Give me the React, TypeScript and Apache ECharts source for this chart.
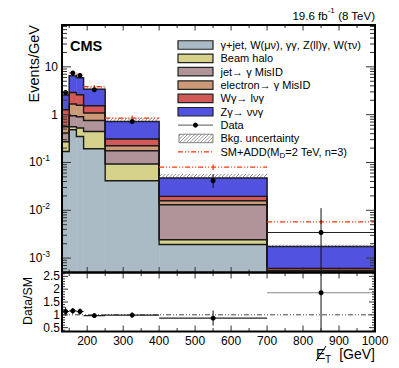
import React, { useEffect, useRef } from "react";
import * as echarts from "echarts";

const FONT = '"Liberation Sans", Arial, Helvetica, sans-serif';

// MET bins (GeV)
const binEdges = [130, 150, 170, 190, 250, 400, 700, 1000];

// Stacked backgrounds in events/GeV (bottom to top)
const gammaJetOther = [0.17, 0.483, 0.35, 0.194, 0.0414, 0.00193, 0.0002];
const beamHalo = [0.101, 0.075, 0.175, 0.251, 0.0512, 0.00049, 0.00001];
const jetMisID = [0.141, 0.39, 0.379, 0.311, 0.0834, 0.0106, 0.0003];
const electronMisID = [0.146, 0.72, 0.669, 0.324, 0.048, 0.0028, 0.00004];
const wGamma = [0.712, 1.24, 1.037, 0.455, 0.085, 0.0037, 0.00006];
const zGamma = [1.31, 3.59, 3.29, 1.865, 0.411, 0.0277, 0.00114];

const processLabels = [
  "γ+jet, W(μν), γγ, Z(ll)γ, W(τν)",
  "Beam halo",
  "jet→ γ MisID",
  "electron→ γ MisID",
  "Wγ→ lνγ",
  "Zγ→ ννγ",
];
const processColors = ["#aabbc6", "#d6d28c", "#b09499", "#cd9a78", "#d25858", "#5252e0"];

// relative background uncertainty (upper band)
const bkgRelUncertainty = [0.1, 0.08, 0.08, 0.1, 0.2, 0.22, 0.09];

// observed data (events/GeV) with error band
const dataValues = [2.91, 7.42, 6.61, 3.32, 0.72, 0.0414, 0.00343];
const dataLow = [2.53, 6.81, 6.04, 3.08, 0.65, 0.0291, 0.000001];
const dataHigh = [3.29, 8.03, 7.18, 3.56, 0.79, 0.0572, 0.0111];
const dataShowXErrMain = [0, 0, 0, 0, 0, 0, 1];

// SM + ADD signal (M_D = 2 TeV, n = 3)
const smAddValues = [2.95, 7.5, 7.0, 3.85, 0.85, 0.08, 0.00574];
const smAddRelErr = [0.06, 0.06, 0.06, 0.08, 0.13, 0.13, 0.1];

// Data / SM ratio
const ratioValues = [1.13, 1.155, 1.13, 0.97, 0.99, 0.87, 1.86];
const ratioLow = [0.96, 1.04, 1.01, 0.89, 0.89, 0.58, 0.0];
const ratioHigh = [1.3, 1.27, 1.25, 1.05, 1.09, 1.17, 6.0];

// tick labels
const xTickLabels = [200, 300, 400, 500, 600, 700, 800, 900, 1000];
const xMinorTicks = [150, 250, 350, 450, 550, 650, 750, 850, 950];
const yMainMajorTicks = [0.001, 0.01, 0.1, 1, 10];
const ratioTickLabels = [0.5, 1, 1.5, 2, 2.5];

const X_MIN = 130;
const X_MAX = 1000;
const Y_MIN = 0.0005;
const Y_MAX = 75;
const R_MIN = 0.35;
const R_MAX = 2.65;
const Y_FLOOR = 1e-7;

function hatchSegments(L: number, T: number, W: number, H: number, step: number) {
  const segs: number[][] = [];
  const c0 = Math.ceil((L + T) / step) * step;
  for (let c = c0; c < L + W + T + H; c += step) {
    const xa = Math.max(L, c - T - H);
    const xb = Math.min(L + W, c - T);
    if (xb > xa) segs.push([xa, c - xa, xb, c - xb]);
  }
  return segs;
}

function logMinors(lo: number, hi: number) {
  const out: number[] = [];
  for (let e = -5; e <= 3; e++) {
    for (let k = 2; k <= 9; k++) {
      const v = k * Math.pow(10, e);
      if (v > lo && v < hi) out.push(v);
    }
  }
  return out;
}

function linMinors(lo: number, hi: number, step: number, majors: number[]) {
  const out: number[] = [];
  const start = Math.ceil(lo / step);
  for (let i = start; i * step < hi; i++) {
    const v = Math.round(i * step * 1000) / 1000;
    if (!majors.some((m) => Math.abs(m - v) < 1e-6)) out.push(v);
  }
  return out;
}

function makeFrame(cfg: any) {
  return (params: any, api: any) => {
    const cs = params.coordSys;
    const L = cs.x, T = cs.y, W = cs.width, H = cs.height;
    const R = L + W, B = T + H;
    const ch: any[] = [];
    const ln = (x1: number, y1: number, x2: number, y2: number) =>
      ch.push({ type: "line", shape: { x1, y1, x2, y2 }, style: { stroke: "#333", lineWidth: 1 } });
    cfg.yMajors.forEach((v: number) => {
      const y = api.coord([cfg.xRef, v])[1];
      ln(L, y, L + cfg.yMajLen, y);
      ln(R, y, R - cfg.yMajLen, y);
    });
    cfg.yMinors.forEach((v: number) => {
      const y = api.coord([cfg.xRef, v])[1];
      ln(L, y, L + cfg.yMinLen, y);
      ln(R, y, R - cfg.yMinLen, y);
    });
    cfg.xMajors.forEach((v: number) => {
      const x = api.coord([v, cfg.yRef])[0];
      ln(x, B, x, B - cfg.xMajLen);
      ln(x, T, x, T + cfg.xMajLen);
    });
    cfg.xMinors.forEach((v: number) => {
      const x = api.coord([v, cfg.yRef])[0];
      ln(x, B, x, B - cfg.xMinLen);
      ln(x, T, x, T + cfg.xMinLen);
    });
    ch.push({
      type: "rect",
      shape: { x: L, y: T, width: W, height: H },
      style: { fill: "none", stroke: "#000", lineWidth: 2 },
    });
    return { type: "group", children: ch };
  };
}

function buildOption() {
  const nBins = binEdges.length - 1;
  const layers = [gammaJetOther, beamHalo, jetMisID, electronMisID, wGamma, zGamma];
  const cum = new Array(nBins).fill(0);
  const stackData: number[][] = [];
  const cumTops: number[][] = [];
  layers.forEach((layer, j) => {
    const tops: number[] = [];
    for (let i = 0; i < nBins; i++) {
      const lo = cum[i];
      const hi = lo + layer[i];
      stackData.push([binEdges[i], binEdges[i + 1], j === 0 ? Y_FLOOR : lo, hi, j]);
      cum[i] = hi;
      tops.push(hi);
    }
    cumTops.push(tops);
  });
  const totals = cum.slice();
  const outlineData = cumTops.map((t, j) => [X_MIN, t[0], j]);

  const hatchData = totals.map((t, i) => [binEdges[i], binEdges[i + 1], t, t * (1 + bkgRelUncertainty[i])]);
  const addData = smAddValues.map((v, i) => [
    binEdges[i],
    binEdges[i + 1],
    v,
    v * (1 - smAddRelErr[i]),
    v * (1 + smAddRelErr[i]),
  ]);
  const mainPoints = dataValues.map((v, i) => [
    (binEdges[i] + binEdges[i + 1]) / 2,
    v,
    dataLow[i],
    dataHigh[i],
    binEdges[i],
    binEdges[i + 1],
    dataShowXErrMain[i],
  ]);
  const ratioPoints = ratioValues.map((v, i) => [
    (binEdges[i] + binEdges[i + 1]) / 2,
    v,
    ratioLow[i],
    ratioHigh[i],
    binEdges[i],
    binEdges[i + 1],
    i === nBins - 1 ? 2 : 1,
  ]);

  const pointRenderer = (params: any, api: any) => {
    const xc = api.value(0), v = api.value(1), lo = api.value(2), hi = api.value(3);
    const x0 = api.value(4), x1 = api.value(5), sx = api.value(6);
    const p = api.coord([xc, v]);
    const pl = api.coord([xc, lo]);
    const ph = api.coord([xc, hi]);
    const ch: any[] = [];
    if (sx > 0) {
      const xl = api.coord([x0, v])[0];
      const xr = api.coord([x1, v])[0];
      ch.push({
        type: "line",
        shape: { x1: xl, y1: p[1], x2: xr, y2: p[1] },
        style: { stroke: sx === 2 ? "#888" : "#222", lineWidth: 1.2 },
      });
    }
    ch.push({
      type: "line",
      shape: { x1: p[0], y1: pl[1], x2: p[0], y2: ph[1] },
      style: { stroke: "#111", lineWidth: 1 },
    });
    ch.push({ type: "circle", shape: { cx: p[0], cy: p[1], r: 2.5 }, style: { fill: "#000" } });
    return { type: "group", children: ch };
  };

  const legendY0 = 45;
  const legendDy = 13.35;
  const legendGraphics: any[] = [];
  processLabels.forEach((lab, i) => {
    const y = legendY0 + i * legendDy;
    legendGraphics.push({
      type: "rect",
      shape: { x: 178, y: y - 4.25, width: 35, height: 8.5 },
      style: { fill: processColors[i], stroke: "#222", lineWidth: 1.2 },
    });
    legendGraphics.push({
      type: "text",
      x: 220.5,
      y,
      style: { text: lab, fontSize: 11, fontFamily: FONT, fill: "#000", verticalAlign: "middle", align: "left" },
    });
  });
  {
    const y = legendY0 + 6 * legendDy;
    legendGraphics.push({ type: "line", shape: { x1: 178, y1: y, x2: 213, y2: y }, style: { stroke: "#555", lineWidth: 1 } });
    legendGraphics.push({ type: "circle", shape: { cx: 195.5, cy: y, r: 2.5 }, style: { fill: "#000" } });
    legendGraphics.push({
      type: "text", x: 220.5, y,
      style: { text: "Data", fontSize: 11, fontFamily: FONT, fill: "#000", verticalAlign: "middle", align: "left" },
    });
  }
  {
    const y = legendY0 + 7 * legendDy;
    const L = 179, T = y - 4.25, W = 34, H = 8.5;
    legendGraphics.push({ type: "rect", shape: { x: L, y: T, width: W, height: H }, style: { fill: "none", stroke: "#666", lineWidth: 0.8 } });
    hatchSegments(L, T, W, H, 3.5).forEach((s) =>
      legendGraphics.push({ type: "line", shape: { x1: s[0], y1: s[1], x2: s[2], y2: s[3] }, style: { stroke: "#666", lineWidth: 0.7 } })
    );
    legendGraphics.push({
      type: "text", x: 220.5, y,
      style: { text: "Bkg. uncertainty", fontSize: 11, fontFamily: FONT, fill: "#000", verticalAlign: "middle", align: "left" },
    });
  }
  {
    const y = legendY0 + 8 * legendDy;
    legendGraphics.push({
      type: "line", shape: { x1: 178, y1: y, x2: 213, y2: y },
      style: { stroke: "#ff3300", lineWidth: 1.2, lineDash: [5, 2, 1, 2, 1, 2] },
    });
    legendGraphics.push({
      type: "text", x: 220.5, y,
      style: {
        text: "{n|SM+ADD(M}{d|D}{n|=2 TeV, n=3)}",
        fontFamily: FONT, fill: "#000", verticalAlign: "middle", align: "left",
        rich: {
          n: { fontSize: 11, fontFamily: FONT, lineHeight: 16, verticalAlign: "middle" },
          d: { fontSize: 8, fontFamily: FONT, verticalAlign: "bottom" },
        },
      },
    });
  }

  const textGraphics: any[] = [
    {
      type: "text", x: 70, y: 46,
      style: { text: "CMS", fontSize: 14.5, fontWeight: "bold", fontFamily: FONT, fill: "#000", verticalAlign: "middle", align: "left" },
    },
    {
      type: "text", x: 375, y: 15.5,
      style: {
        text: "{n|19.6 fb}{s|-1}{n| (8 TeV)}",
        align: "right", verticalAlign: "middle", fontFamily: FONT,
        rich: {
          n: { fontSize: 11.5, fontFamily: FONT, lineHeight: 18, verticalAlign: "middle" },
          s: { fontSize: 8, fontFamily: FONT, verticalAlign: "top" },
        },
      },
    },
    {
      type: "text", x: 34, y: 25, rotation: Math.PI / 2,
      style: { text: "Events/GeV", fontSize: 14.5, fontFamily: FONT, fill: "#000", align: "right", verticalAlign: "middle" },
    },
    {
      type: "text", x: 27.5, y: 301, rotation: Math.PI / 2,
      style: { text: "Data/SM", fontSize: 12.3, fontFamily: FONT, fill: "#000", align: "center", verticalAlign: "middle" },
    },
    {
      type: "text", x: 316, y: 354,
      style: { text: "E", fontSize: 14, fontFamily: FONT, fill: "#000", align: "left", verticalAlign: "middle" },
    },
    { type: "line", shape: { x1: 316, y1: 361, x2: 326, y2: 346 }, style: { stroke: "#000", lineWidth: 1 } },
    {
      type: "text", x: 325, y: 359,
      style: { text: "T", fontSize: 10, fontFamily: FONT, fill: "#000", align: "left", verticalAlign: "middle" },
    },
    {
      type: "text", x: 375, y: 354,
      style: { text: "[GeV]", fontSize: 14, fontFamily: FONT, fill: "#000", align: "right", verticalAlign: "middle" },
    },
  ];

  return {
    animation: false,
    backgroundColor: "#fff",
    grid: [
      { left: 62, top: 25, width: 313, height: 247.5, containLabel: false, outerBoundsMode: "none" },
      { left: 62, top: 272.5, width: 313, height: 59, containLabel: false, outerBoundsMode: "none" },
    ],
    xAxis: [
      {
        gridIndex: 0, type: "value", min: X_MIN, max: X_MAX,
        axisLine: { show: false }, axisTick: { show: false }, axisLabel: { show: false }, splitLine: { show: false },
      },
      {
        gridIndex: 1, type: "value", min: X_MIN, max: X_MAX,
        axisLine: { show: false }, axisTick: { show: false }, splitLine: { show: false },
        axisLabel: {
          show: true, customValues: xTickLabels, margin: 3, fontSize: 12, fontFamily: FONT, color: "#000",
          showMinLabel: true, showMaxLabel: true,
          formatter: (v: number) => String(v),
        },
      },
    ],
    yAxis: [
      {
        gridIndex: 0, type: "log", logBase: 10, min: Y_MIN, max: Y_MAX,
        axisLine: { show: false }, axisTick: { show: false }, splitLine: { show: false },
        axisLabel: {
          show: true, margin: 4, color: "#000", fontFamily: FONT,
          showMinLabel: false, showMaxLabel: false,
          formatter: (v: number) => {
            const lg = Math.log10(v);
            const e = Math.round(lg);
            if (Math.abs(lg - e) > 1e-6) return "";
            if (e === 0) return "{n|1}";
            if (e === 1) return "{n|10}";
            return "{n|10}{s|" + e + "}{p|}";
          },
          rich: {
            n: { fontSize: 12, fontFamily: FONT, color: "#000", lineHeight: 18, verticalAlign: "middle" },
            s: { fontSize: 8.5, fontFamily: FONT, color: "#000", verticalAlign: "top" },
            p: { width: 8 },
          },
        },
      },
      {
        gridIndex: 1, type: "value", min: R_MIN, max: R_MAX,
        axisLine: { show: false }, axisTick: { show: false }, splitLine: { show: false },
        axisLabel: {
          show: true, customValues: ratioTickLabels, margin: 2, fontSize: 12, fontFamily: FONT, color: "#000",
          formatter: (v: number) => String(v),
        },
      },
    ],
    graphic: { elements: [...legendGraphics, ...textGraphics] },
    series: [
      {
        type: "custom", name: "stack", xAxisIndex: 0, yAxisIndex: 0, z: 2, clip: true,
        data: stackData,
        encode: { x: [0, 1], y: [2, 3] },
        renderItem: (params: any, api: any) => {
          const a = api.coord([api.value(0), api.value(3)]);
          const b = api.coord([api.value(1), api.value(2)]);
          return {
            type: "rect",
            shape: { x: a[0], y: a[1], width: b[0] - a[0], height: b[1] - a[1] },
            style: { fill: processColors[api.value(4)], stroke: processColors[api.value(4)], lineWidth: 0.5 },
          };
        },
      },
      {
        type: "custom", name: "outline", xAxisIndex: 0, yAxisIndex: 0, z: 2.5, clip: true,
        data: outlineData,
        encode: { x: 0, y: 1 },
        renderItem: (params: any, api: any) => {
          const j = api.value(2);
          const tops = cumTops[j];
          const pts: number[][] = [];
          pts.push(api.coord([binEdges[0], Y_FLOOR]));
          for (let i = 0; i < tops.length; i++) {
            pts.push(api.coord([binEdges[i], tops[i]]));
            pts.push(api.coord([binEdges[i + 1], tops[i]]));
          }
          pts.push(api.coord([binEdges[binEdges.length - 1], Y_FLOOR]));
          return {
            type: "polyline",
            shape: { points: pts },
            style: { fill: "none", stroke: "#1a1a1a", lineWidth: 1.4 },
          };
        },
      },
      {
        type: "custom", name: "bkgunc", xAxisIndex: 0, yAxisIndex: 0, z: 3, clip: true,
        data: hatchData,
        encode: { x: [0, 1], y: [2, 3] },
        renderItem: (params: any, api: any) => {
          const a = api.coord([api.value(0), api.value(3)]);
          const b = api.coord([api.value(1), api.value(2)]);
          const L = a[0], T = a[1], W = b[0] - a[0], H = b[1] - a[1];
          const ch = hatchSegments(L, T, W, H, 3.5).map((s) => ({
            type: "line", shape: { x1: s[0], y1: s[1], x2: s[2], y2: s[3] }, style: { stroke: "#666", lineWidth: 0.7 },
          }));
          return { type: "group", children: ch };
        },
      },
      {
        type: "custom", name: "smadd", xAxisIndex: 0, yAxisIndex: 0, z: 4, clip: true,
        data: addData,
        encode: { x: [0, 1], y: [2, 3, 4] },
        renderItem: (params: any, api: any) => {
          const x0 = api.value(0), x1 = api.value(1), v = api.value(2);
          const a = api.coord([x0, v]);
          const b = api.coord([x1, v]);
          const xc = (a[0] + b[0]) / 2;
          const lo = api.coord([x0, api.value(3)])[1];
          const hi = api.coord([x0, api.value(4)])[1];
          return {
            type: "group",
            children: [
              { type: "line", shape: { x1: a[0], y1: a[1], x2: b[0], y2: b[1] }, style: { stroke: "#ff3300", lineWidth: 1.2, lineDash: [5, 2, 1, 2, 1, 2] } },
              { type: "line", shape: { x1: xc, y1: lo, x2: xc, y2: hi }, style: { stroke: "#ff3300", lineWidth: 1.2 } },
            ],
          };
        },
      },
      {
        type: "custom", name: "data", xAxisIndex: 0, yAxisIndex: 0, z: 5, clip: true,
        data: mainPoints,
        encode: { x: 0, y: [1, 2, 3] },
        renderItem: pointRenderer,
      },
      {
        type: "custom", name: "frameMain", xAxisIndex: 0, yAxisIndex: 0, z: 8, clip: false,
        data: [[500, 1]],
        encode: { x: 0, y: 1 },
        renderItem: makeFrame({
          xRef: X_MIN, yRef: 1,
          yMajors: yMainMajorTicks, yMinors: logMinors(Y_MIN, Y_MAX), yMajLen: 9, yMinLen: 5,
          xMajors: xTickLabels.filter((v) => v < X_MAX), xMinors: xMinorTicks, xMajLen: 5.5, xMinLen: 3,
        }),
      },
      {
        type: "custom", name: "refline", xAxisIndex: 1, yAxisIndex: 1, z: 3, clip: true,
        data: [[X_MIN, X_MAX, 1]],
        encode: { x: [0, 1], y: 2 },
        renderItem: (params: any, api: any) => {
          const a = api.coord([api.value(0), api.value(2)]);
          const b = api.coord([api.value(1), api.value(2)]);
          return {
            type: "line", shape: { x1: a[0], y1: a[1], x2: b[0], y2: b[1] },
            style: { stroke: "#444", lineWidth: 1, lineDash: [5, 2, 1, 2, 1, 2] },
          };
        },
      },
      {
        type: "custom", name: "ratio", xAxisIndex: 1, yAxisIndex: 1, z: 5, clip: true,
        data: ratioPoints,
        encode: { x: 0, y: [1, 2, 3] },
        renderItem: pointRenderer,
      },
      {
        type: "custom", name: "frameRatio", xAxisIndex: 1, yAxisIndex: 1, z: 8, clip: false,
        data: [[500, 1]],
        encode: { x: 0, y: 1 },
        renderItem: makeFrame({
          xRef: X_MIN, yRef: 1,
          yMajors: ratioTickLabels, yMinors: linMinors(R_MIN, R_MAX, 0.1, ratioTickLabels), yMajLen: 6, yMinLen: 3,
          xMajors: xTickLabels.filter((v) => v < X_MAX), xMinors: xMinorTicks, xMajLen: 6, xMinLen: 3.5,
        }),
      },
    ],
  };
}

export default function App() {
  const ref = useRef<HTMLDivElement>(null);
  useEffect(() => {
    if (!ref.current) return;
    const chart = echarts.init(ref.current, null, { renderer: "svg" });
    chart.setOption(buildOption() as any);
    return () => chart.dispose();
  }, []);
  return (
    <div
      ref={ref}
      style={{ position: "fixed", left: 0, top: 0, width: 399, height: 368, background: "#fff" }}
    />
  );
}
